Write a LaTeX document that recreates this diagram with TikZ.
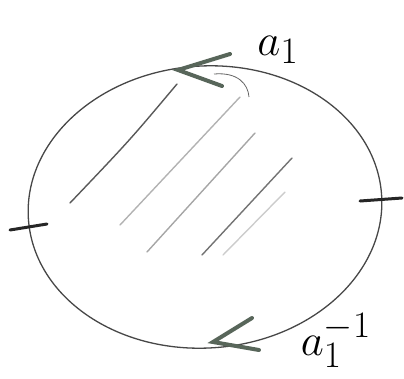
\documentclass[tikz,border=0pt]{standalone}
\begin{document}
\begin{tikzpicture}[x=1pt,y=-1pt,
  curve/.style={line width=1.3pt, color=black!72},
  tick/.style={line width=3pt, line cap=round, color=black!85},
  arrowstroke/.style={line width=4pt, line cap=round, color={rgb,255:red,88;green,102;blue,90}},
  hatch/.style={line width=1.4pt, line cap=round},
  lbl/.style={font=\Huge, inner sep=0pt, scale=1.8, transform shape}]
\useasboundingbox (0,0) rectangle (404,378);
% loop
\draw[curve, rotate around={4:(205,207)}] (205,207) ellipse [x radius=177, y radius=141];
% ticks
\coordinate (tl1) at (10,230); \coordinate (tl2) at (47,224);
\coordinate (tr1) at (360,201); \coordinate (tr2) at (402,198);
\draw[tick] (tl1) -- (tl2);
\draw[tick] (tr1) -- (tr2);
% top arrow
\coordinate (ta) at (178,70); \coordinate (ta1) at (230,54); \coordinate (ta2) at (222,86);
\draw[arrowstroke] (ta1) -- (ta) -- (ta2);
\coordinate (h1) at (214,74); \coordinate (h2) at (249,97);
\draw[line width=0.8pt, color=black!60] (h1) .. controls (238,72) and (248,84) .. (h2);
% bottom arrow
\coordinate (ba) at (213,342); \coordinate (ba1) at (252,318); \coordinate (ba2) at (259,350);
\draw[arrowstroke] (ba1) -- (ba) -- (ba2);
% hatching
\draw[hatch, black!65] (177,84) .. controls (130,140) .. (70,203);
\draw[hatch, black!30] (240,97) -- (120,225);
\draw[hatch, black!35] (255,133) -- (147,252);
\draw[hatch, black!55] (292,158) -- (202,255);
\draw[hatch, black!20] (285,192) -- (223,255);
% labels
\node[lbl] (la) at (278,50) {$a_1$};
\node[lbl] (lb) at (336,340) {$a_1^{-1}$};
\end{tikzpicture}
\end{document}
